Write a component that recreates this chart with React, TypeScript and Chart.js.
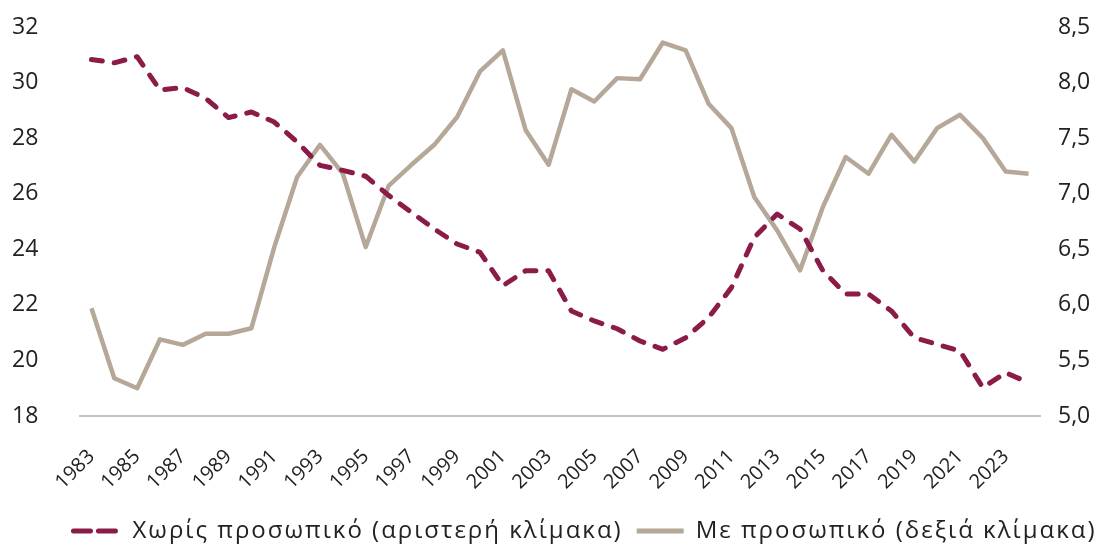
import React, { useEffect, useRef } from "react";
import { Chart, registerables } from "chart.js";

Chart.register(...registerables);

const years = [
  "1983", "1984", "1985", "1986", "1987", "1988", "1989", "1990", "1991", "1992",
  "1993", "1994", "1995", "1996", "1997", "1998", "1999", "2000", "2001", "2002",
  "2003", "2004", "2005", "2006", "2007", "2008", "2009", "2010", "2011", "2012",
  "2013", "2014", "2015", "2016", "2017", "2018", "2019", "2020", "2021", "2022",
  "2023", "2024",
];

// Left axis series (dashed)
const withoutStaff = [
  30.83, 30.71, 30.93, 29.73, 29.82, 29.43, 28.74, 28.94, 28.58, 27.86,
  27.02, 26.84, 26.63, 25.94, 25.33, 24.73, 24.19, 23.89, 22.69, 23.23,
  23.23, 21.78, 21.42, 21.14, 20.7, 20.4, 20.82, 21.54, 22.62, 24.43,
  25.27, 24.73, 23.23, 22.39, 22.39, 21.78, 20.82, 20.58, 20.34, 19.02,
  19.56, 19.2,
];

// Right axis series (solid)
const withStaff = [
  5.97, 5.34, 5.25, 5.69, 5.64, 5.74, 5.74, 5.79, 6.52, 7.15,
  7.44, 7.18, 6.52, 7.07, 7.26, 7.44, 7.69, 8.1, 8.29, 7.57,
  7.26, 7.94, 7.83, 8.04, 8.03, 8.36, 8.29, 7.81, 7.59, 6.97,
  6.67, 6.31, 6.88, 7.33, 7.18, 7.53, 7.29, 7.59, 7.71, 7.5,
  7.2, 7.18,
];

const leftTicks = [18, 20, 22, 24, 26, 28, 30, 32];
const rightTicks = [5.0, 5.5, 6.0, 6.5, 7.0, 7.5, 8.0, 8.5];
const seriesLabels = [
  "Χωρίς προσωπικό (αριστερή κλίμακα)",
  "Με προσωπικό (δεξιά κλίμακα)",
];

const FONT = "'Open Sans', 'Noto Sans', sans-serif";
const MAROON = "#8B1C48";
const TAUPE = "#B5A898";
const TEXT = "#222222";

// Widens legend lettering (the reference uses a wide geometric face) and nudges it
const legendSpacingPlugin = {
  id: "legendSpacing",
  beforeUpdate(chart: any) {
    const lg = chart.legend;
    if (!lg || lg._spaced) return;
    lg._spaced = true;
    const origFit = lg.fit.bind(lg);
    lg.fit = (...args: any[]) => {
      const ctx = lg.ctx;
      const prev = ctx.letterSpacing;
      ctx.letterSpacing = "2px";
      const r = origFit(...args);
      ctx.letterSpacing = prev || "0px";
      return r;
    };
    const origDraw = lg.draw.bind(lg);
    lg.draw = (...args: any[]) => {
      const ctx = lg.ctx;
      ctx.save();
      ctx.letterSpacing = "2px";
      ctx.translate(29, 8);
      const r = origDraw(...args);
      ctx.restore();
      ctx.letterSpacing = "0px";
      return r;
    };
  },
};

const noVerticalPadding = (s: any) => {
  s.paddingTop = 0;
  s.paddingBottom = 0;
};

export default function App() {
  const ref = useRef<HTMLCanvasElement>(null);

  useEffect(() => {
    if (!ref.current) return;
    const chart = new Chart(ref.current, {
      type: "line",
      data: {
        labels: years,
        datasets: [
          {
            label: seriesLabels[0],
            data: withoutStaff,
            yAxisID: "y",
            borderColor: MAROON,
            backgroundColor: MAROON,
            borderWidth: 5,
            borderDash: [11, 12],
            borderCapStyle: "round",
            borderJoinStyle: "round",
            pointRadius: 0,
            tension: 0,
          },
          {
            label: seriesLabels[1],
            data: withStaff,
            yAxisID: "y1",
            borderColor: TAUPE,
            backgroundColor: TAUPE,
            borderWidth: 4.5,
            borderJoinStyle: "round",
            pointRadius: 0,
            tension: 0,
          },
        ],
      },
      options: {
        animation: false,
        responsive: false,
        maintainAspectRatio: false,
        layout: { padding: { left: 12, top: 27, right: 0, bottom: 0 } },
        scales: {
          x: {
            offset: true,
            grid: { display: false, drawTicks: false },
            border: { display: true, color: "#C4C4C4", width: 2 },
            ticks: {
              autoSkip: false,
              maxRotation: 45,
              minRotation: 45,
              padding: 29,
              color: TEXT,
              font: { family: FONT, size: 20 },
              callback: (_v: any, i: number) => (i % 2 === 0 ? years[i] : ""),
            },
            afterFit: (s: any) => {
              s.height = 81;
            },
          },
          y: {
            position: "left",
            min: 18,
            max: 32,
            grid: { display: false, drawTicks: false },
            border: { display: false },
            ticks: {
              crossAlign: "far",
              color: TEXT,
              font: { family: FONT, size: 23 },
            },
            afterBuildTicks: (s: any) => {
              s.ticks = leftTicks.map((v) => ({ value: v }));
            },
            afterFit: (s: any) => {
              s.width = 68;
              noVerticalPadding(s);
            },
          },
          y1: {
            position: "right",
            min: 5,
            max: 8.5,
            grid: { display: false, drawTicks: false },
            border: { display: false },
            ticks: {
              padding: 18,
              color: TEXT,
              font: { family: FONT, size: 23 },
              callback: (v: any) => Number(v).toFixed(1).replace(".", ","),
            },
            afterBuildTicks: (s: any) => {
              s.ticks = rightTicks.map((v) => ({ value: v }));
            },
            afterFit: (s: any) => {
              s.width = 60;
              noVerticalPadding(s);
            },
          },
        },
        plugins: {
          legend: {
            position: "bottom",
            labels: {
              usePointStyle: true,
              pointStyle: "line",
              pointStyleWidth: 47,
              boxHeight: 6,
              padding: 14,
              color: TEXT,
              font: { family: FONT, size: 24 },
              generateLabels: (c: any) => {
                const items = Chart.defaults.plugins.legend.labels.generateLabels(c);
                items.forEach((it: any, idx: number) => {
                  it.lineWidth = 5;
                  if (idx === 0) {
                    it.lineDash = [17, 8];
                    it.lineCap = "round";
                  } else {
                    it.lineDash = [];
                    it.lineCap = "butt";
                  }
                });
                return items;
              },
            },
          },
          tooltip: { enabled: false },
        },
      },
      plugins: [legendSpacingPlugin],
    });
    return () => chart.destroy();
  }, []);

  return (
    <div style={{ position: "fixed", left: 0, top: 0, width: 1100, height: 545, background: "#fff" }}>
      <canvas ref={ref} width={1100} height={545} style={{ display: "block", width: 1100, height: 545 }} />
    </div>
  );
}
